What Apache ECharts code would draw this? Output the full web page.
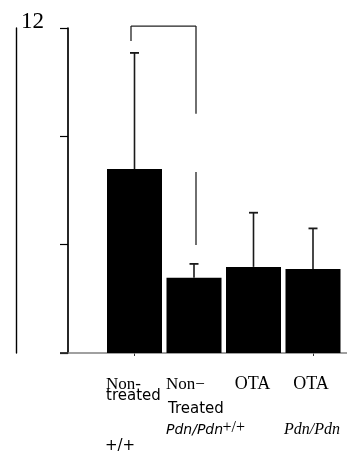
<!DOCTYPE html>
<html>
<head>
<meta charset="utf-8">
<script src="https://cdn.jsdelivr.net/npm/echarts@6/dist/echarts.min.js"></script>
<style>
html,body{margin:0;padding:0;background:#fff;}
#chart{width:348px;height:452px;}
</style>
</head>
<body>
<div id="chart"></div>
<script>
// ---- data ----
var categories = ['Non-treated +/+', 'Non-Treated Pdn/Pdn', 'OTA +/+', 'OTA Pdn/Pdn'];
var labelLine1 = ['Non-', 'Non\u2212', 'OTA', 'OTA'];
var labelLine2 = ['treated', 'Treated', '', ''];
var genotype = ['+/+', 'Pdn/Pdn', '+/+', 'Pdn/Pdn'];
var means = [6.79, 2.78, 3.18, 3.10];
var errTops = [11.08, 3.29, 5.18, 4.60];
var yTicks = [0, 4, 8, 12];
var shownTickLabel = 12;
// significance bracket (between category 0 and 1)
var bracketTop = 12.07;
var bracketLeftEnd = 11.52;
var bracketRightSegments = [[12.07, 8.83], [6.68, 3.99]];

var chart = echarts.init(document.getElementById('chart'), null, {renderer: 'canvas'});

var gridLeft = 104.75, gridRight = 5.25, gridTop = 28, gridBottom = 99;

var option = {
  animation: false,
  backgroundColor: '#fff',
  grid: {left: gridLeft, right: gridRight, top: gridTop, bottom: gridBottom, containLabel: false},
  xAxis: {
    type: 'category',
    data: categories,
    axisLine: {show: false},
    axisTick: {show: true, alignWithLabel: true, length: 3, lineStyle: {color: '#333', width: 1}},
    axisLabel: {show: false},
    splitLine: {show: false}
  },
  yAxis: [{
    type: 'value',
    min: yTicks[0], max: yTicks[yTicks.length - 1], interval: yTicks[1] - yTicks[0],
    offset: 36.75,
    axisLine: {show: true, lineStyle: {color: '#000', width: 1.7}},
    axisTick: {show: true, length: 8, lineStyle: {color: '#000', width: 1.2}},
    axisLabel: {
      show: true,
      margin: 24,
      verticalAlign: 'bottom',
      lineHeight: 12,
      fontFamily: 'Liberation Serif',
      fontSize: 23,
      color: '#000',
      formatter: function (v) { return v === shownTickLabel ? String(v) : ''; }
    },
    splitLine: {show: false}
  }, {
    type: 'value',
    min: yTicks[0], max: yTicks[yTicks.length - 1], interval: yTicks[1] - yTicks[0],
    position: 'left',
    offset: 88.75,
    axisLine: {show: true, lineStyle: {color: '#000', width: 1.4}},
    axisTick: {show: false},
    axisLabel: {show: false},
    splitLine: {show: false}
  }],
  series: [{
    type: 'bar',
    data: means,
    barWidth: 55,
    itemStyle: {color: '#000'},
    z: 2
  }, {
    type: 'custom',
    data: means.map(function (m, i) { return [i, m, errTops[i]]; }),
    z: 3,
    renderItem: function (params, api) {
      var i = api.value(0);
      var p0 = api.coord([i, api.value(1)]);
      var p1 = api.coord([i, api.value(2)]);
      var cap = 4.5;
      return {
        type: 'group',
        children: [
          {type: 'line', shape: {x1: p0[0], y1: p0[1], x2: p1[0], y2: p1[1]}, style: {stroke: '#1a1a1a', lineWidth: 1.6}},
          {type: 'line', shape: {x1: p1[0] - cap, y1: p1[1], x2: p1[0] + cap, y2: p1[1]}, style: {stroke: '#1a1a1a', lineWidth: 1.8}}
        ]
      };
    }
  }]
};
chart.setOption(option);

function px(ci, v) { return chart.convertToPixel({gridIndex: 0}, [ci, v]); }

var graphics = [];
// full x baseline (gray), starting at left end of y tick
var b0 = px(0, 0);
var yAxisX = gridLeft - 36.75;
graphics.push({type: 'line', shape: {x1: yAxisX - 8, y1: b0[1], x2: 347, y2: b0[1]}, style: {stroke: '#808080', lineWidth: 1.6}, z: 1});
// redraw tick at 0 in black over it
graphics.push({type: 'line', shape: {x1: yAxisX - 8, y1: b0[1], x2: yAxisX, y2: b0[1]}, style: {stroke: '#000', lineWidth: 1.2}, z: 5});

// bracket
var lt = px(0, bracketTop), lb = px(0, bracketLeftEnd), rt = px(1, bracketTop);
var lx = lt[0] - 3.5, rx = rt[0] + 2;
var bStyle = {stroke: '#222', lineWidth: 1.3};
graphics.push({type: 'line', shape: {x1: lx, y1: lt[1], x2: rx, y2: lt[1]}, style: bStyle, z: 5});
graphics.push({type: 'line', shape: {x1: lx, y1: lt[1], x2: lx, y2: lb[1]}, style: bStyle, z: 5});
bracketRightSegments.forEach(function (s) {
  var a = px(1, s[0]), b = px(1, s[1]);
  graphics.push({type: 'line', shape: {x1: rx, y1: a[1], x2: rx, y2: b[1]}, style: bStyle, z: 5});
});

// category labels
function txt(text, x, y, font, align) {
  graphics.push({type: 'text', z: 6, style: {text: text, x: x, y: y, font: font, fill: '#000', align: align || 'left', verticalAlign: 'middle'}});
}
var serif = '"Liberation Serif"';
var sans = '"DejaVu Sans"';
var base = b0[1];
var c = [0, 1, 2, 3].map(function (i) { return px(i, 0)[0]; });
// category 1
txt(labelLine1[0], c[0] - 28.5, base + 32, '17px ' + serif);
txt(labelLine2[0], c[0] - 28.5, base + 43, '15px ' + sans);
txt(genotype[0], c[0] - 29.5, base + 93, '15px ' + sans);
// category 2
txt(labelLine1[1], c[1] - 28, base + 32, '17px ' + serif);
txt(labelLine2[1], c[1] - 26, base + 56, '15px ' + sans);
txt(genotype[1], c[1] - 28, base + 77, 'italic 14px ' + sans);
// category 3
txt(labelLine1[2], c[2] - 1, base + 31, '18px ' + serif, 'center');
txt(genotype[2], c[2] - 31, base + 75, '16px ' + serif);
// category 4
txt(labelLine1[3], c[3] - 2, base + 31, '18px ' + serif, 'center');
txt(genotype[3], c[3] - 1, base + 77, 'italic 16px ' + serif, 'center');

chart.setOption({graphic: graphics});
</script>
</body>
</html>
